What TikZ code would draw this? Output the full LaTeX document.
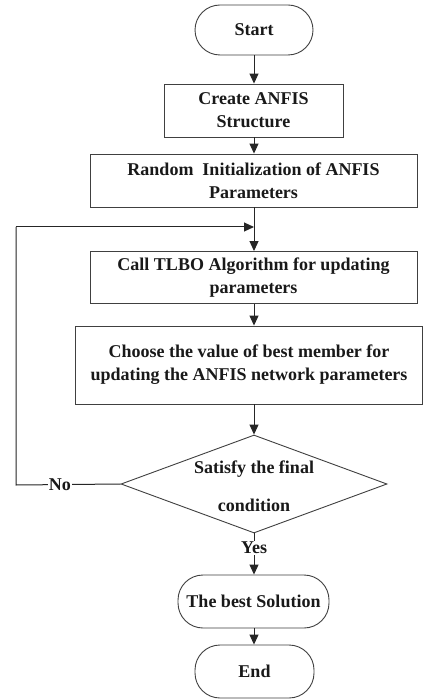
\documentclass[tikz,border=0pt]{standalone}
\usepackage{fontspec}
\setmainfont{Liberation Serif}
\usetikzlibrary{shapes.geometric,arrows.meta}
\begin{document}
\begin{tikzpicture}[x=1pt,y=-1pt,
  every node/.style={text=black!90},
  txt/.style={font=\fontsize{18}{23}\selectfont\bfseries, align=center},
  box/.style={txt, draw=black!75, line width=0.9pt, fill=white, inner sep=2pt},
  term/.style={box, rounded corners=25pt},
  dec/.style={draw=black!75, line width=0.9pt, fill=white, diamond, inner sep=0pt},
  arr/.style={draw=black!85, line width=1pt, -{Triangle[length=10pt,width=9pt]}},
  ln/.style={draw=black!85, line width=1pt}]
\useasboundingbox (0,0) rectangle (424,700);
\fill[white] (0,0) rectangle (424,700);
\node[term, minimum width=118pt, minimum height=50pt] (start) at (254,30) {Start};
\node[box, minimum width=179pt, minimum height=53pt] (create) at (253.5,110.5) {Create ANFIS\\Structure};
\node[box, minimum width=327pt, minimum height=53pt] (rand) at (253.5,180.5) {Random\ \ Initialization of ANFIS\\Parameters};
\node[box, minimum width=327pt, minimum height=52pt] (tlbo) at (253.5,277.5) {Call TLBO Algorithm for updating\\parameters};
\node[box, minimum width=347pt, minimum height=78pt] (choose) at (249,365) {Choose the value of best member for\\updating the ANFIS network parameters};
\node[dec, minimum width=266pt, minimum height=98pt] (dia) at (254,484) {};
\node[txt] (diat) at (254,486) {Satisfy the final\\[15pt]condition};
\node[term, minimum width=151pt, minimum height=53pt] (best) at (253.5,601.5) {The best Solution};
\node[term, minimum width=119pt, minimum height=53pt] (end) at (254.5,671.5) {End};
\coordinate (merge) at (254,227);
\coordinate (lc) at (16,485);
\draw[arr] (start.south) -- (create.north -| start.south);
\draw[arr] (create.south -| start.south) -- (rand.north -| start.south);
\draw[arr] (rand.south -| start.south) -- (tlbo.north -| start.south);
\draw[arr] (tlbo.south -| start.south) -- (choose.north -| start.south);
\draw[arr] (choose.south -| start.south) -- (dia.north);
\draw[arr] (dia.south) -- node[txt, fill=white, inner sep=1pt, pos=0.35] (yes) {Yes} (best.north -| dia.south);
\draw[arr] (best.south -| dia.south) -- (end.north -| dia.south);
\draw[ln] (dia.west) -- node[txt, fill=white, inner sep=1pt, pos=0.58] (no) {No} (lc) -- (lc |- merge);
\draw[arr] (lc |- merge) -- (merge);
\end{tikzpicture}
\end{document}
